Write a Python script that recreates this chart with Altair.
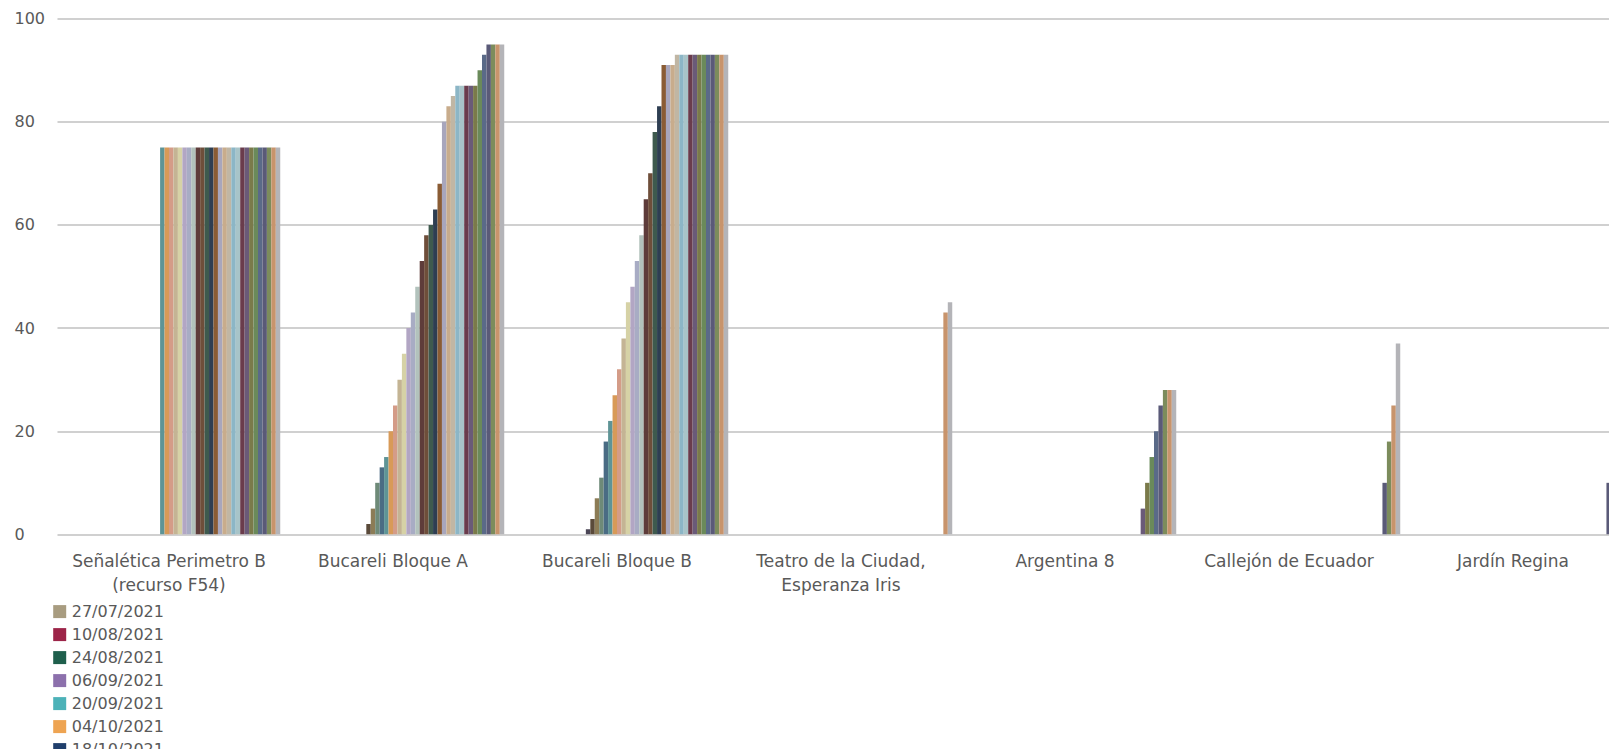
import altair as alt
import pandas as pd

FONT = "DejaVu Sans"
TEXT = "#595959"

categories = [
    "Señalética Perimetro B (recurso F54)",
    "Bucareli Bloque A",
    "Bucareli Bloque B",
    "Teatro de la Ciudad, Esperanza Iris",
    "Argentina 8",
    "Callejón de Ecuador",
    "Jardín Regina",
]

wrapped = {
    "Señalética Perimetro B (recurso F54)": ["Señalética Perimetro B", "(recurso F54)"],
    "Teatro de la Ciudad, Esperanza Iris": ["Teatro de la Ciudad,", "Esperanza Iris"],
}

dates = [
    "27/07/2021", "10/08/2021", "24/08/2021", "06/09/2021", "20/09/2021", "04/10/2021",
    "18/10/2021", "01/11/2021", "15/11/2021", "29/11/2021", "13/12/2021", "27/12/2021",
    "10/01/2022", "24/01/2022", "07/02/2022", "21/02/2022", "07/03/2022", "21/03/2022",
    "04/04/2022", "18/04/2022", "02/05/2022", "16/05/2022", "30/05/2022", "13/06/2022",
    "27/06/2022", "11/07/2022", "25/07/2022", "08/08/2022", "22/08/2022", "05/09/2022",
    "19/09/2022", "03/10/2022", "17/10/2022", "31/10/2022", "14/11/2022", "28/11/2022",
    "12/12/2022", "26/12/2022", "09/01/2023", "23/01/2023", "06/02/2023", "20/02/2023",
    "06/03/2023", "20/03/2023", "03/04/2023", "17/04/2023", "01/05/2023", "15/05/2023",
    "29/05/2023", "12/06/2023",
]

palette = [
    "#a89c80", "#9c2448", "#1f5f4c", "#8c70ac", "#4cb2b8", "#eea452", "#203f6c",
    "#b03040", "#6a8a3a", "#5a4a8a", "#3a8aa0", "#d07a30", "#8a8aa0", "#a05a6a",
    "#7a9a6a", "#9a8ab8", "#6ab0b8", "#e0b070",
    "#4b4656", "#5a4a3a", "#8c7c56", "#6e8a78", "#4a6c84", "#5e9496", "#d89a58",
    "#d49c88", "#c4b494", "#d6d2a6", "#b2a6c4", "#a8acc4", "#b2c2bc", "#5e3c3a",
    "#6e4e3a", "#3e5a4e", "#2e3e52", "#8a5c34", "#a8a6bc", "#c8ac8c", "#c0b6a4",
    "#8cb6c6", "#a8c4c8", "#6a3c4c", "#6a5a78", "#7a7a4a", "#6a8a5a", "#5a6a88",
    "#5a5a78", "#7c8c5c", "#c8946c", "#b4b4b8",
]

# values of each category, starting at the given date (right-most series of each group)
senaletica_start = "13/06/2022"
senaletica = [75, 75, 75, 75, 75, 75, 75, 75, 75, 75, 75, 75, 75, 75, 75, 75, 75, 75,
              75, 75, 75, 75, 75, 75, 75, 75, 75]
bucareli_a_start = "18/04/2022"
bucareli_a = [2, 5, 10, 13, 15, 20, 25, 30, 35, 40, 43, 48, 53, 58, 60, 63, 68, 80, 83,
              85, 87, 87, 87, 87, 87, 90, 93, 95, 95, 95, 95]
bucareli_b_start = "04/04/2022"
bucareli_b = [1, 3, 7, 11, 18, 22, 27, 32, 38, 45, 48, 53, 58, 65, 70, 78, 83, 91, 91,
              91, 93, 93, 93, 93, 93, 93, 93, 93, 93, 93, 93, 93]
teatro_start = "29/05/2023"
teatro = [43, 45]
argentina_start = "06/03/2023"
argentina = [5, 10, 15, 20, 25, 28, 28, 28]
callejon_start = "01/05/2023"
callejon = [10, 18, 25, 37]
jardin_start = "01/05/2023"
jardin = [10, 15]

runs = [
    (categories[0], senaletica_start, senaletica),
    (categories[1], bucareli_a_start, bucareli_a),
    (categories[2], bucareli_b_start, bucareli_b),
    (categories[3], teatro_start, teatro),
    (categories[4], argentina_start, argentina),
    (categories[5], callejon_start, callejon),
    (categories[6], jardin_start, jardin),
]

rows = []
for cat, start, vals in runs:
    i0 = dates.index(start)
    for k, v in enumerate(vals):
        rows.append({"cat": cat, "date": dates[i0 + k], "value": v})
df = pd.DataFrame(rows)

label_expr = "datum.label"
for name, lines in wrapped.items():
    arr = "[" + ", ".join("'" + s + "'" for s in lines) + "]"
    label_expr = f"datum.label == '{name}' ? {arr} : ({label_expr})"

chart = alt.Chart(df).mark_bar(clip=True).encode(
    x=alt.X(
        "cat:N",
        sort=categories,
        scale=alt.Scale(domain=categories, range=[0, 1568], paddingInner=0, paddingOuter=0),
        axis=alt.Axis(
            title=None, labelExpr=label_expr, labelAngle=0, labelFont=FONT,
            labelFontSize=17, labelColor=TEXT, labelPadding=19, labelLineHeight=24,
            labelLimit=400, ticks=False, tickSize=0, domain=False,
            labelBaseline="top", grid=False, labelOverlap=False,
        ),
    ),
    xOffset=alt.XOffset(
        "date:N", sort=dates,
        scale=alt.Scale(domain=dates, paddingInner=0, paddingOuter=0.17),
    ),
    y=alt.Y(
        "value:Q",
        scale=alt.Scale(domain=[0, 100], nice=False),
        axis=alt.Axis(
            title=None, values=[0, 20, 40, 60, 80, 100], labelAlign="left",
            labelPadding=43, ticks=False, tickSize=0, domain=False,
            gridColor="#d0d0d0", gridWidth=2, labelFont=FONT, labelFontSize=16,
            labelColor=TEXT,
        ),
    ),
    color=alt.Color(
        "date:N", sort=dates,
        scale=alt.Scale(domain=dates, range=palette),
        legend=alt.Legend(
            values=dates[:7], orient="none", legendX=-5.3, legendY=585,
            title=None, symbolType="square", symbolSize=169, symbolStrokeWidth=0,
            labelFont=FONT, labelFontSize=16, labelColor=TEXT, rowPadding=7,
            padding=0, labelOffset=4, direction="vertical",
        ),
    ),
).properties(
    width=1552,
    height=515.8,
    autosize=alt.AutoSizeParams(type="none"),
    padding={"left": 49, "top": 10.6, "right": 0, "bottom": 214.6},
).configure_view(stroke=None)

chart.save("out.html", embed_options={"renderer": "svg", "actions": False})
